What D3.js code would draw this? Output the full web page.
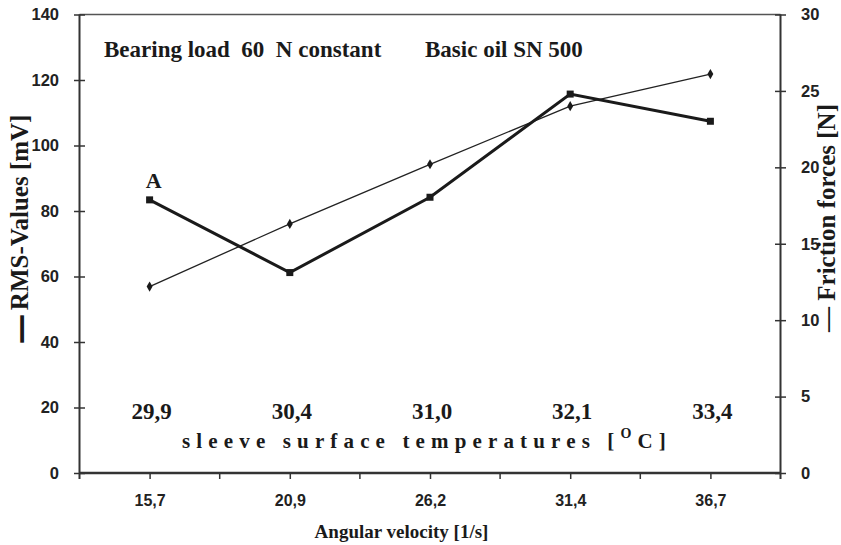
<!DOCTYPE html>
<html>
<head>
<meta charset="utf-8">
<script src="https://cdn.jsdelivr.net/npm/d3@7"></script>
<style>
  body { margin: 0; background: #fff; }
  svg { display: block; }
  .tick text { font-family: "Liberation Sans", Arial, sans-serif; font-weight: bold; font-size: 16.5px; fill: #222; }
  .serif { font-family: "Liberation Serif", "Times New Roman", serif; font-weight: bold; fill: #1a1a1a; }
</style>
</head>
<body>
<svg id="chart"></svg>
<script>
let velocities = ["15,7", "20,9", "26,2", "31,4", "36,7"]
let temperatures = ["29,9", "30,4", "31,0", "32,1", "33,4"]
let rmsValues = [83.4, 61.2, 84.2, 115.7, 107.4]
let frictionValues = [12.2, 16.3, 20.2, 24.0, 26.1]
let leftTicks = [0, 20, 40, 60, 80, 100, 120, 140]
let rightTicks = [0, 5, 10, 15, 20, 25, 30]

let width = 841
let height = 545
let plotLeft = 79.5, plotRight = 780.5, plotTop = 14.5, plotBottom = 473

let svg = d3.select("#chart").attr("width", width).attr("height", height)

let xScale = d3.scalePoint().domain(velocities).range([plotLeft, plotRight]).padding(0.5)
let yLeft = d3.scaleLinear().domain([0, 140]).range([plotBottom, plotTop])
let yRight = d3.scaleLinear().domain([0, 30]).range([plotBottom, plotTop])

// frame top line
svg.append("line")
  .attr("x1", plotLeft).attr("x2", plotRight).attr("y1", plotTop).attr("y2", plotTop)
  .attr("stroke", "#555").attr("stroke-width", 1.5)

// left axis
let gl = svg.append("g").attr("transform", "translate(" + plotLeft + ",0)")
  .call(d3.axisLeft(yLeft).tickValues(leftTicks).tickSize(6).tickPadding(14.5))
gl.select(".domain").remove()
gl.selectAll(".tick line").attr("x1", 5.5).attr("x2", -5.5).attr("stroke", "#333").attr("stroke-width", 1.5)
gl.append("line").attr("y1", plotTop).attr("y2", plotBottom + 6).attr("stroke", "#333").attr("stroke-width", 2)

// right axis
let gr = svg.append("g").attr("transform", "translate(" + plotRight + ",0)")
  .call(d3.axisRight(yRight).tickValues(rightTicks).tickSize(6).tickPadding(14.5))
gr.select(".domain").remove()
gr.selectAll(".tick line").attr("x1", -5.5).attr("x2", 5.5).attr("stroke", "#333").attr("stroke-width", 1.5)
gr.append("line").attr("y1", plotTop).attr("y2", plotBottom + 6).attr("stroke", "#333").attr("stroke-width", 2)

// bottom axis
let gb = svg.append("g").attr("transform", "translate(0," + plotBottom + ")")
  .call(d3.axisBottom(xScale).tickSize(6).tickPadding(16))
gb.select(".domain").remove()
gb.selectAll(".tick line").attr("stroke", "#333").attr("stroke-width", 1.5)
gb.selectAll(".tick text").style("font-size", "16px")
gb.selectAll(".minor").data(velocities.slice(1))
  .enter().append("line")
  .attr("x1", d => xScale(d) - xScale.step() / 2).attr("x2", d => xScale(d) - xScale.step() / 2)
  .attr("y1", 0).attr("y2", 6)
  .attr("stroke", "#333").attr("stroke-width", 1.5)
gb.append("line").attr("x1", plotLeft).attr("x2", plotRight).attr("stroke", "#333").attr("stroke-width", 2.5)

// lines
let lineRms = d3.line().x((d, i) => xScale(velocities[i])).y(d => yLeft(d))
let lineFric = d3.line().x((d, i) => xScale(velocities[i])).y(d => yRight(d))

svg.append("path").datum(frictionValues).attr("d", lineFric)
  .attr("fill", "none").attr("stroke", "#222").attr("stroke-width", 1.3)
svg.append("path").datum(rmsValues).attr("d", lineRms)
  .attr("fill", "none").attr("stroke", "#1a1a1a").attr("stroke-width", 3)

svg.selectAll(".sq").data(rmsValues).enter().append("rect")
  .attr("x", (d, i) => xScale(velocities[i]) - 3.5)
  .attr("y", d => yLeft(d) - 3.5)
  .attr("width", 7).attr("height", 7).attr("fill", "#1a1a1a")

svg.selectAll(".dia").data(frictionValues).enter().append("path")
  .attr("d", d3.symbol().type(d3.symbolDiamond).size(30))
  .attr("transform", (d, i) => "translate(" + xScale(velocities[i]) + "," + yRight(d) + ")")
  .attr("fill", "#1a1a1a")

// annotations
svg.append("text").attr("class", "serif").attr("x", 104).attr("y", 57)
  .attr("font-size", 23).style("white-space", "pre")
  .text("Bearing load  60  N constant")
svg.append("text").attr("class", "serif").attr("x", 425).attr("y", 57)
  .attr("font-size", 23).text("Basic oil SN 500")
svg.append("text").attr("class", "serif").attr("x", xScale(velocities[0]) + 4).attr("y", 188)
  .attr("text-anchor", "middle").attr("font-size", 22).attr("font-weight", "normal").text("A")

// temperatures
svg.selectAll(".temp").data(temperatures).enter().append("text")
  .attr("class", "serif")
  .attr("x", (d, i) => xScale(velocities[i]) + 2)
  .attr("y", 419)
  .attr("text-anchor", "middle").attr("font-size", 23)
  .text(d => d)

let sleeve = svg.append("text").attr("class", "serif").attr("x", 182).attr("y", 448).attr("font-size", 21)
sleeve.append("tspan").text("sleeve surface temperatures [")
sleeve.append("tspan").attr("dy", -10).attr("font-size", 14).text("O")
sleeve.append("tspan").attr("dy", 10).text("C]")
let natural = sleeve.node().getComputedTextLength()
let nChars = "sleeve surface temperatures [OC]".length
sleeve.attr("letter-spacing", ((672 - 182 - natural) / nChars) + "px")

svg.append("text").attr("class", "serif").attr("x", (315 + 488) / 2).attr("y", 538)
  .attr("text-anchor", "middle").attr("font-size", 19).text("Angular velocity [1/s]")

// axis titles
let tl = svg.append("text").attr("class", "serif")
  .attr("transform", "translate(28,228) rotate(-90)")
  .attr("text-anchor", "middle").attr("font-size", 25)
tl.append("tspan").attr("stroke", "#1a1a1a").attr("stroke-width", 2).text("—")
tl.append("tspan").text(" RMS-Values [mV]")
svg.append("text").attr("class", "serif")
  .attr("transform", "translate(835,218) rotate(-90)")
  .attr("text-anchor", "middle").attr("font-size", 25)
  .text("— Friction forces [N]")
</script>
</body>
</html>
